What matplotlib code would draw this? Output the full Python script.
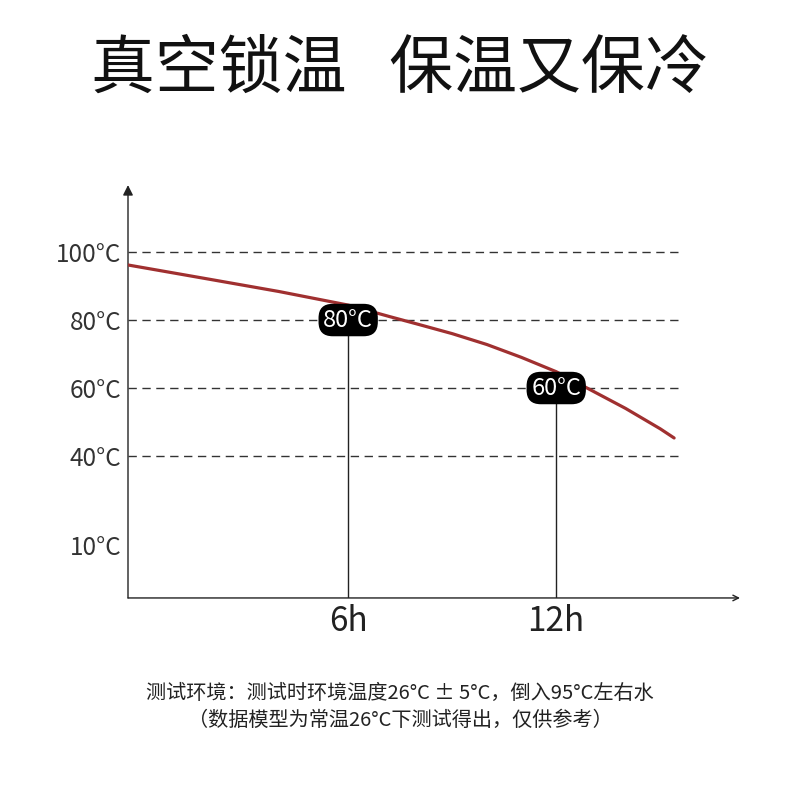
import numpy as np
import matplotlib.pyplot as plt
from matplotlib.patches import FancyArrowPatch

plt.rcParams['font.family'] = ['Noto Sans CJK SC', 'DejaVu Sans']

# curve (hours, degrees C)
hours = [-0.35, 2, 4, 6, 7.2, 8, 9, 10, 11, 12, 13, 14, 15, 15.4]
temps = [96.2, 92.0, 88.4, 84.4, 81.0, 78.8, 76.0, 72.8, 69.0, 64.8, 59.4, 54.0, 48.0, 45.3]
grid_temps = [40, 60, 80, 100]
ytick_temps = [10, 40, 60, 80, 100]
ytick_labels = ['10°C', '40°C', '60°C', '80°C', '100°C']
xtick_hours = [6, 12]
xtick_labels = ['6h', '12h']
markers = [(6, 80, '80°C'), (12, 60, '60°C')]

# the y axis in the picture is not linear: map temperature to drawn position
t_pts = [-7.9, 10, 40, 100, 119.7]
p_pts = [0, 53, 142, 346, 413]
fwd = lambda t: np.interp(t, t_pts, p_pts)
inv = lambda p: np.interp(p, p_pts, t_pts)

fig = plt.figure(figsize=(8, 7.94), dpi=100)
ax = fig.add_axes([0.16, 0.2469, 0.765, 0.52])
ax.set_yscale('function', functions=(fwd, inv))
ax.set_ylim(-7.9, 119.7)
ax.set_xlim(-0.35, 17.3)

for t in grid_temps:
    ax.plot([-0.35, 15.5], [t, t], ls=(0, (6, 4)), color='#333333', lw=1)
for h, t, lab in markers:
    ax.plot([h, h], [-7.9, t], color='#222222', lw=1)
ax.plot(hours, temps, color='#a03030', lw=2.3, solid_capstyle='round')
for h, t, lab in markers:
    ax.text(h, t, lab, ha='center', va='center', color='white', fontsize=17,
            bbox=dict(boxstyle='round,pad=0.2,rounding_size=0.6', fc='black', ec='none'))

for s in ['top', 'right', 'left', 'bottom']:
    ax.spines[s].set_visible(False)
ax.add_patch(FancyArrowPatch((0, 0), (0, 1.0), transform=ax.transAxes, arrowstyle='-|>,head_length=6,head_width=3',
                             color='#222222', lw=1, clip_on=False, shrinkA=0, shrinkB=0))
ax.add_patch(FancyArrowPatch((0, 0), (1.0, 0), transform=ax.transAxes, arrowstyle='->,head_length=4,head_width=2',
                             color='#222222', lw=1, clip_on=False, shrinkA=0, shrinkB=0))

ax.set_yticks(ytick_temps)
ax.set_yticklabels(ytick_labels, fontsize=17.5, color='#333333', fontweight='light')
ax.set_xticks(xtick_hours)
ax.set_xticklabels(xtick_labels, fontsize=24, color='#222222', fontweight='light')
ax.tick_params(length=0, pad=5)
ax.tick_params(axis='x', pad=4)
ax.minorticks_off()

fig.text(0.5, 0.912, '真空锁温   保温又保冷', ha='center', va='center', fontsize=46, color='#111111')
fig.text(0.5, 0.127, '测试环境：测试时环境温度26°C ± 5°C，倒入95°C左右水', ha='center', va='center',
         fontsize=14.5, color='#222222')
fig.text(0.5, 0.092, '（数据模型为常温26°C下测试得出，仅供参考）', ha='center', va='center',
         fontsize=14.5, color='#222222')

fig.savefig('out.png', dpi=100)
